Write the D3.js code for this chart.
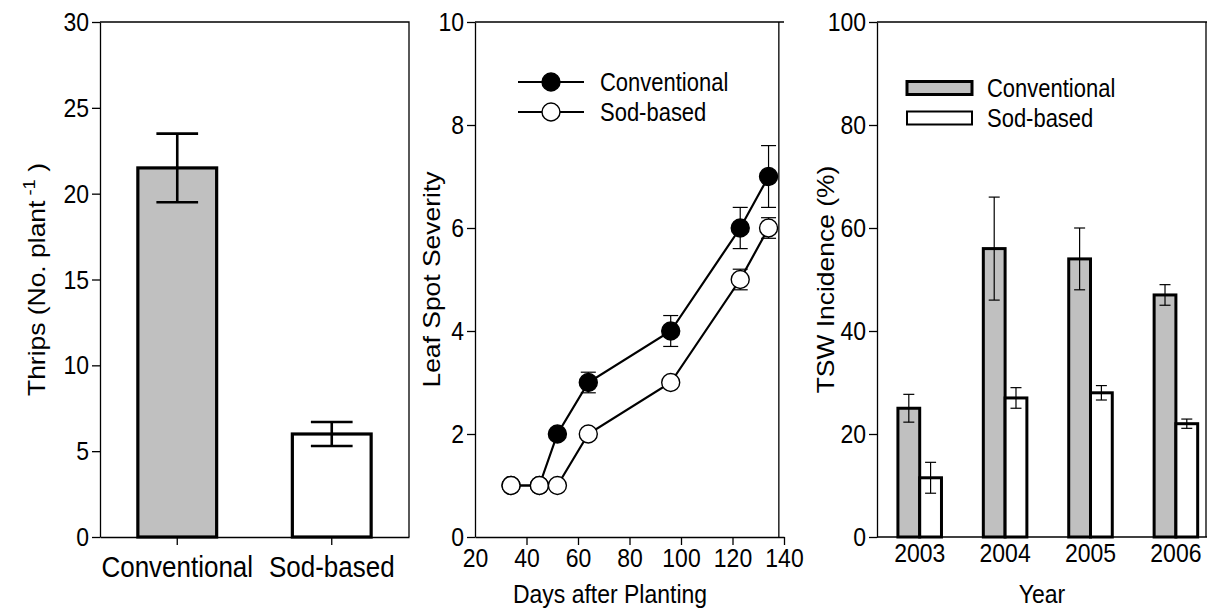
<!DOCTYPE html>
<html>
<head>
<meta charset="utf-8">
<script src="https://cdn.jsdelivr.net/npm/d3@7"></script>
<style>
  body { margin: 0; background: #fff; }
  text { font-family: "Liberation Sans", Arial, sans-serif; fill: #000; }
  /* the source figure is slightly stretched vertically */
  .sy { transform-box: fill-box; transform-origin: center; transform: scaleY(1.15); }
  .sx { transform-box: fill-box; transform-origin: center; transform: scaleX(1.15); }
</style>
</head>
<body>
<script>
// ---- data ----
const systems = ["Conventional", "Sod-based"];
const thripsMean = [21.5, 6.0];
const thripsErr = [2.0, 0.7];

const days = [34, 45, 52, 64, 96, 123, 134];
const leafConv = [1, 1, 2, 3, 4, 6, 7];
const leafConvErr = [0, 0, 0, 0.2, 0.3, 0.4, 0.6];
const leafSod = [1, 1, 1, 2, 3, 5, 6];
const leafSodErr = [0, 0, 0, 0, 0, 0.2, 0.2];

const years = ["2003", "2004", "2005", "2006"];
const tswConv = [25, 56, 54, 47];
const tswConvErr = [2.7, 10, 6, 2];
const tswSod = [11.5, 27, 28, 22];
const tswSodErr = [3, 2, 1.4, 0.9];

const W = 1207, H = 608;
const plotTop = 22, plotBottom = 537;
const grey = "#c0c0c0";

const svg = d3.select("body").append("svg")
  .attr("width", W).attr("height", H);

function styleAxis(g, size) {
  g.attr("font-family", null).attr("font-size", size);
  g.selectAll("path.domain").attr("stroke-width", 1.3);
  g.selectAll(".tick line").attr("stroke-width", 1.3);
  g.selectAll(".tick text").attr("class", "sy");
}

function errBar(g, cx, yScale, v, e, cap, sw) {
  if (!e) return;
  g.append("line").attr("x1", cx).attr("x2", cx)
    .attr("y1", yScale(v - e)).attr("y2", yScale(v + e))
    .attr("stroke", "#000").attr("stroke-width", sw);
  [v - e, v + e].forEach(t => {
    g.append("line").attr("x1", cx - cap / 2).attr("x2", cx + cap / 2)
      .attr("y1", yScale(t)).attr("y2", yScale(t))
      .attr("stroke", "#000").attr("stroke-width", sw);
  });
}

function yTitle(g, x, y) {
  return g.append("g").attr("transform", `translate(${x},${y}) rotate(-90)`)
    .append("text").attr("class", "sx")
    .attr("text-anchor", "middle").attr("font-size", 23);
}

const midY = (plotTop + plotBottom) / 2;

// ---- panel 1: thrips ----
{
  const x0 = 100, x1 = 409;
  const x = d3.scaleBand().domain(systems).range([x0, x1]).padding(0);
  const y = d3.scaleLinear().domain([0, 30]).range([plotBottom, plotTop]);
  const g = svg.append("g");
  const barW = x.bandwidth() * 0.51;

  g.selectAll("rect.bar").data(systems).join("rect")
    .attr("x", d => x(d) + x.bandwidth() / 2 - barW / 2)
    .attr("width", barW)
    .attr("y", (d, i) => y(thripsMean[i]))
    .attr("height", (d, i) => y(0) - y(thripsMean[i]))
    .attr("fill", (d, i) => i === 0 ? grey : "#fff")
    .attr("stroke", "#000").attr("stroke-width", 3.2);

  systems.forEach((d, i) =>
    errBar(g, x(d) + x.bandwidth() / 2, y, thripsMean[i], thripsErr[i], x.bandwidth() * 0.27, 2.6));

  // frame
  g.append("path").attr("d", `M${x0},${plotTop}H${x1}V${plotBottom}`)
    .attr("fill", "none").attr("stroke", "#000").attr("stroke-width", 1.3);

  g.append("g").attr("transform", `translate(${x0},0)`)
    .call(d3.axisLeft(y).tickValues(d3.range(0, 31, 5)).tickSize(8).tickSizeOuter(0).tickPadding(3))
    .call(a => styleAxis(a, 23));
  g.append("g").attr("transform", `translate(0,${plotBottom})`)
    .call(d3.axisBottom(x).tickSize(8).tickSizeOuter(0).tickPadding(12))
    .call(a => styleAxis(a, 26));

  const t = yTitle(g, 45, midY);
  t.append("tspan").text("Thrips (No. plant");
  t.append("tspan").attr("font-size", 16).attr("dy", -10).text(" -1");
  t.append("tspan").attr("dy", 10).text(" )");
}

// ---- panel 2: leaf spot ----
{
  const x0 = 475, x1 = 784;
  const x = d3.scaleLinear().domain([20, 140]).range([x0, x1]);
  const y = d3.scaleLinear().domain([0, 10]).range([plotBottom, plotTop]);
  const g = svg.append("g");

  g.append("path").attr("d", `M${x0},${plotTop}H${x1}M${x(138)},${plotTop}V${plotBottom}`)
    .attr("fill", "none").attr("stroke", "#000").attr("stroke-width", 1.3);

  g.append("g").attr("transform", `translate(${x0},0)`)
    .call(d3.axisLeft(y).tickValues(d3.range(0, 11, 2)).tickSize(8).tickSizeOuter(0).tickPadding(3))
    .call(a => styleAxis(a, 23));
  g.append("g").attr("transform", `translate(0,${plotBottom})`)
    .call(d3.axisBottom(x).tickValues(d3.range(20, 141, 20)).tickSize(8).tickSizeOuter(0).tickPadding(5))
    .call(a => styleAxis(a, 23));
  g.selectAll(".tick").filter(d => d === 20).select("line").remove();

  const line = d3.line().x((d, i) => x(days[i])).y(d => y(d));
  const series = [
    { vals: leafConv, err: leafConvErr, fill: "#000" },
    { vals: leafSod, err: leafSodErr, fill: "#fff" }
  ];
  series.forEach(s => {
    s.vals.forEach((v, i) => errBar(g, x(days[i]), y, v, s.err[i], 15, 1.2));
  });
  series.forEach(s => {
    g.append("path").attr("d", line(s.vals))
      .attr("fill", "none").attr("stroke", "#000").attr("stroke-width", 2.2);
    g.selectAll(null).data(s.vals).join("circle")
      .attr("cx", (d, i) => x(days[i])).attr("cy", d => y(d)).attr("r", 9)
      .attr("fill", s.fill).attr("stroke", "#000").attr("stroke-width", 1.4);
  });

  // legend
  series.forEach((s, i) => {
    const ly = 82 + i * 30;
    g.append("line").attr("x1", 518).attr("x2", 584).attr("y1", ly).attr("y2", ly)
      .attr("stroke", "#000").attr("stroke-width", 2.2);
    g.append("circle").attr("cx", 551).attr("cy", ly).attr("r", 9)
      .attr("fill", s.fill).attr("stroke", "#000").attr("stroke-width", 1.4);
    g.append("text").attr("class", "sy").attr("x", 600).attr("y", ly + 8)
      .attr("font-size", 22).text(systems[i]);
  });

  yTitle(g, 440, midY).text("Leaf Spot Severity");
  g.append("text").attr("class", "sy").attr("x", 610).attr("y", 602)
    .attr("text-anchor", "middle").attr("font-size", 23).text("Days after Planting");
}

// ---- panel 3: TSW ----
{
  const x0 = 877, x1 = 1218.6, xr = 1206;
  const x = d3.scaleBand().domain(years).range([x0, x1]).padding(0);
  const y = d3.scaleLinear().domain([0, 100]).range([plotBottom, plotTop]);
  const g = svg.append("g");
  const barW = x.bandwidth() * 0.255;
  const series = [
    { vals: tswConv, err: tswConvErr, fill: grey, off: -1 },
    { vals: tswSod, err: tswSodErr, fill: "#fff", off: 0 }
  ];

  series.forEach(s => {
    g.selectAll(null).data(years).join("rect")
      .attr("x", d => x(d) + x.bandwidth() / 2 + s.off * barW)
      .attr("width", barW)
      .attr("y", (d, i) => y(s.vals[i]))
      .attr("height", (d, i) => y(0) - y(s.vals[i]))
      .attr("fill", s.fill).attr("stroke", "#000").attr("stroke-width", 3);
  });
  series.forEach(s => {
    years.forEach((d, i) =>
      errBar(g, x(d) + x.bandwidth() / 2 + (s.off + 0.5) * barW, y, s.vals[i], s.err[i], 11, 1.2));
  });

  g.append("path").attr("d", `M${x0},${plotTop}H${W}M${xr},${plotTop}V${plotBottom}`)
    .attr("fill", "none").attr("stroke", "#000").attr("stroke-width", 1.3);

  g.append("g").attr("transform", `translate(${x0},0)`)
    .call(d3.axisLeft(y).tickValues(d3.range(0, 101, 20)).tickSize(8).tickSizeOuter(0).tickPadding(3))
    .call(a => styleAxis(a, 23));
  const xa = g.append("g").attr("transform", `translate(0,${plotBottom})`)
    .call(d3.axisBottom(x).tickSize(0).tickSizeOuter(0).tickPadding(7))
    .call(a => styleAxis(a, 23));
  xa.select("path.domain").attr("d", `M${x0},0H${W}`);

  // legend
  series.forEach((s, i) => {
    const ly = 88 + i * 30;
    g.append("rect").attr("x", 907).attr("y", ly - 6.5).attr("width", 65).attr("height", 13)
      .attr("fill", s.fill).attr("stroke", "#000").attr("stroke-width", i === 0 ? 3 : 2);
    g.append("text").attr("class", "sy").attr("x", 987).attr("y", ly + 8)
      .attr("font-size", 22).text(systems[i]);
  });

  yTitle(g, 834, midY).text("TSW Incidence (%)");
  g.append("text").attr("class", "sy").attr("x", 1042).attr("y", 602)
    .attr("text-anchor", "middle").attr("font-size", 23).text("Year");
}
</script>
</body>
</html>
